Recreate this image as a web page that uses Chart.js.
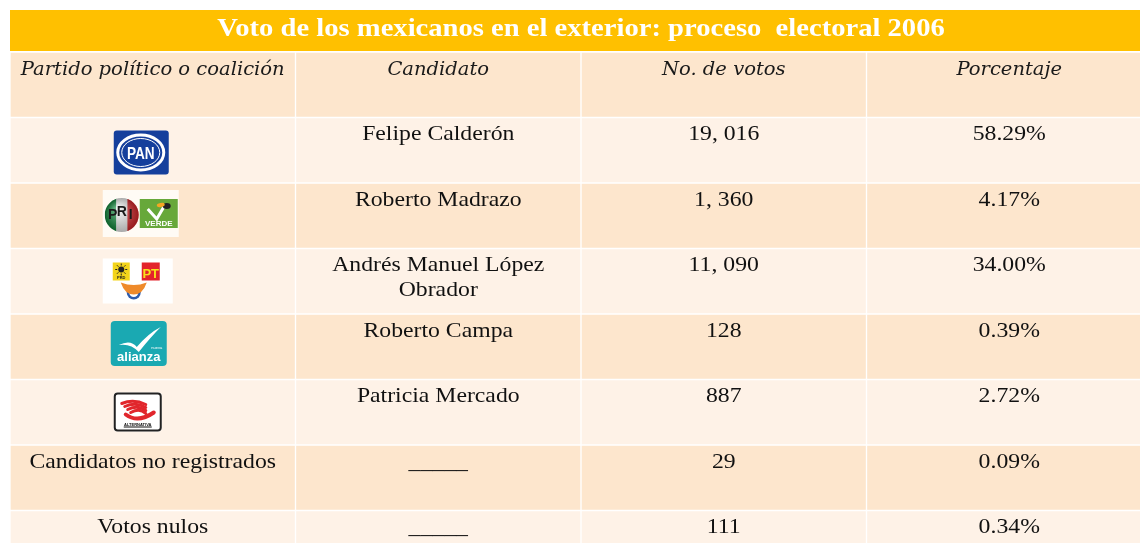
<!DOCTYPE html>
<html>
<head>
<meta charset="utf-8">
<title>Voto de los mexicanos en el exterior 2006</title>
<script src="https://cdn.jsdelivr.net/npm/chart.js@4.4.0/dist/chart.umd.min.js"></script>
<style>
  html, body { margin: 0; padding: 0; background: #fff; }
  #wrap { width: 1140px; height: 543px; overflow: hidden; }
  canvas { display: block; }
</style>
</head>
<body>
<div id="wrap"><canvas id="tabla" width="1152" height="576"></canvas></div>
<script>
const titulo = 'Voto de los mexicanos en el exterior: proceso  electoral 2006';
const encabezados = ['Partido político o coalición', 'Candidato', 'No. de votos', 'Porcentaje'];
const partidos = ['PAN', 'PRI-PVEM', 'PRD-PT-Convergencia', 'Nueva Alianza', 'Alternativa', 'Candidatos no registrados', 'Votos nulos'];
const candidatos = ['Felipe Calderón', 'Roberto Madrazo', 'Andrés Manuel López\nObrador', 'Roberto Campa', 'Patricia Mercado', '_____', '_____'];
const votos = [19016, 1360, 11090, 128, 887, 29, 111];
const porcentajes = [58.29, 4.17, 34.00, 0.39, 2.72, 0.09, 0.34];

const filas = ['encabezado', ...partidos];
const PEACH = '#fde6cd';
const LIGHT = '#fef2e7';

// votes are written as "19, 016" in the original
function fmtVotos(n) {
    if (n < 1000) return String(n);
    return Math.floor(n / 1000) + ', ' + String(n % 1000).padStart(3, '0');
}

function rr(ctx, x, y, w, h, r) {
    ctx.beginPath();
    ctx.moveTo(x + r, y);
    ctx.arcTo(x + w, y, x + w, y + h, r);
    ctx.arcTo(x + w, y + h, x, y + h, r);
    ctx.arcTo(x, y + h, x, y, r);
    ctx.arcTo(x, y, x + w, y, r);
    ctx.closePath();
}

function texto(ctx, txt, x, y, font, color, sx) {
    ctx.save();
    ctx.font = font;
    ctx.fillStyle = color;
    ctx.textAlign = 'center';
    ctx.textBaseline = 'alphabetic';
    txt.split('\n').forEach((line, k) => {
        ctx.save();
        ctx.translate(x, y + k * 25);
        ctx.scale(sx, 1);
        ctx.fillText(line, 0, 0);
        ctx.restore();
    });
    ctx.restore();
}

// simple party logos
const logos = {
    'PAN': (ctx, cx, t) => {
        const x = cx - 27, y = t + 13, w = 55, h = 44;
        ctx.fillStyle = '#153f9c';
        rr(ctx, x, y, w, h, 3); ctx.fill();
        ctx.strokeStyle = '#fff';
        ctx.lineWidth = 3;
        ctx.beginPath(); ctx.ellipse(cx, y + h / 2, 23, 17.5, 0, 0, Math.PI * 2); ctx.stroke();
        ctx.lineWidth = 1;
        ctx.beginPath(); ctx.ellipse(cx, y + h / 2, 19, 14, 0, 0, Math.PI * 2); ctx.stroke();
        ctx.save();
        ctx.translate(cx, y + h / 2 + 6);
        ctx.scale(0.8, 1);
        ctx.font = 'bold 17px "Liberation Sans"';
        ctx.fillStyle = '#fff';
        ctx.textAlign = 'center';
        ctx.fillText('PAN', 0, 0);
        ctx.restore();
    },
    'PRI-PVEM': (ctx, cx, t) => {
        ctx.fillStyle = '#fffbf5';
        ctx.fillRect(cx - 38, t + 7, 76, 47);
        // PRI
        const px = cx - 19, py = t + 32, r = 17;
        ctx.save();
        ctx.beginPath(); ctx.arc(px, py, r, 0, Math.PI * 2); ctx.clip();
        ctx.fillStyle = '#138a3e'; ctx.fillRect(px - r, py - r, r * 2 / 3 + 1, r * 2);
        ctx.fillStyle = '#f4f4f4'; ctx.fillRect(px - r / 3, py - r, r * 2 / 3, r * 2);
        ctx.fillStyle = '#d8262b'; ctx.fillRect(px + r / 3, py - r, r * 2 / 3 + 1, r * 2);
        const g = ctx.createRadialGradient(px - 5, py - 6, 2, px, py, r);
        g.addColorStop(0, 'rgba(255,255,255,0.35)');
        g.addColorStop(1, 'rgba(0,0,0,0.3)');
        ctx.fillStyle = g; ctx.fillRect(px - r, py - r, r * 2, r * 2);
        ctx.restore();
        ctx.font = 'bold 14px "Liberation Sans"';
        ctx.fillStyle = '#1a1a1a';
        ctx.textAlign = 'center';
        ctx.fillText('P', px - 9, py + 4);
        ctx.fillText('R', px, py + 1);
        ctx.fillText('I', px + 9, py + 4);
        // Verde
        const vx = cx - 1, vy = t + 16;
        ctx.fillStyle = '#67a83a';
        ctx.fillRect(vx, vy, 38, 29);
        ctx.strokeStyle = '#fff';
        ctx.lineWidth = 3;
        ctx.beginPath(); ctx.moveTo(vx + 8, vy + 10); ctx.lineTo(vx + 17, vy + 20); ctx.lineTo(vx + 24, vy + 8); ctx.stroke();
        ctx.fillStyle = '#222';
        ctx.beginPath(); ctx.ellipse(vx + 27, vy + 7, 4, 3, 0, 0, Math.PI * 2); ctx.fill();
        ctx.fillStyle = '#f5a623';
        ctx.beginPath(); ctx.ellipse(vx + 21, vy + 6, 4, 2, -0.2, 0, Math.PI * 2); ctx.fill();
        ctx.font = 'bold 8px "Liberation Sans"';
        ctx.fillStyle = '#fff';
        ctx.fillText('VERDE', vx + 19, vy + 27);
    },
    'PRD-PT-Convergencia': (ctx, cx, t) => {
        ctx.fillStyle = '#ffffff';
        ctx.fillRect(cx - 38, t + 10, 70, 45);
        // PRD
        const dx = cx - 28, dy = t + 14;
        ctx.fillStyle = '#f3d41a'; ctx.fillRect(dx, dy, 17, 18);
        ctx.fillStyle = '#222';
        ctx.beginPath(); ctx.arc(dx + 8.5, dy + 7, 3, 0, Math.PI * 2); ctx.fill();
        ctx.strokeStyle = '#222'; ctx.lineWidth = 1;
        for (let k = 0; k < 8; k++) {
            const a = k * Math.PI / 4;
            ctx.beginPath();
            ctx.moveTo(dx + 8.5 + Math.cos(a) * 4, dy + 7 + Math.sin(a) * 4);
            ctx.lineTo(dx + 8.5 + Math.cos(a) * 6, dy + 7 + Math.sin(a) * 6);
            ctx.stroke();
        }
        ctx.font = 'bold 4px "Liberation Sans"'; ctx.textAlign = 'center';
        ctx.fillText('PRD', dx + 8.5, dy + 16);
        // PT
        const tx = cx + 1;
        ctx.fillStyle = '#e3232b'; ctx.fillRect(tx, dy, 18, 18);
        ctx.fillStyle = '#f7e11b';
        ctx.font = 'bold 13px "Liberation Sans"';
        ctx.fillText('PT', tx + 9, dy + 15);
        // Convergencia
        const kx = cx - 7, ky = t + 42;
        ctx.fillStyle = '#2f5bab';
        ctx.beginPath(); ctx.arc(kx, ky + 2, 7, 0, Math.PI * 2); ctx.fill();
        ctx.fillStyle = '#fff';
        ctx.beginPath(); ctx.arc(kx, ky + 2, 4.5, 0, Math.PI * 2); ctx.fill();
        ctx.fillStyle = '#ef8a2a';
        ctx.beginPath();
        ctx.moveTo(kx - 13, ky - 8);
        ctx.quadraticCurveTo(kx, ky - 3, kx + 13, ky - 8);
        ctx.quadraticCurveTo(kx + 9, ky + 4, kx, ky + 4);
        ctx.quadraticCurveTo(kx - 9, ky + 4, kx - 13, ky - 8);
        ctx.fill();
    },
    'Nueva Alianza': (ctx, cx, t) => {
        const x = cx - 30, y = t + 7, w = 56, h = 45;
        ctx.fillStyle = '#1aa9b2';
        rr(ctx, x, y, w, h, 4); ctx.fill();
        ctx.fillStyle = '#fff';
        ctx.beginPath();
        ctx.moveTo(x + 8, y + 24);
        ctx.quadraticCurveTo(x + 20, y + 18, x + 26, y + 26);
        ctx.quadraticCurveTo(x + 38, y + 12, x + 50, y + 6);
        ctx.quadraticCurveTo(x + 40, y + 16, x + 28, y + 31);
        ctx.quadraticCurveTo(x + 20, y + 22, x + 8, y + 24);
        ctx.fill();
        ctx.font = 'bold 13px "Liberation Sans"';
        ctx.textAlign = 'center';
        ctx.fillText('alianza', x + w / 2, y + h - 5);
        ctx.font = '4px "Liberation Sans"';
        ctx.fillText('nueva', x + w - 10, y + h - 17);
    },
    'Alternativa': (ctx, cx, t) => {
        const x = cx - 27, y = t + 13, w = 48, h = 39;
        ctx.fillStyle = '#fff';
        rr(ctx, x, y, w, h, 3); ctx.fill();
        ctx.strokeStyle = '#222'; ctx.lineWidth = 2;
        rr(ctx, x + 1, y + 1, w - 2, h - 2, 3); ctx.stroke();
        ctx.strokeStyle = '#e1262c'; ctx.lineWidth = 3; ctx.lineCap = 'round';
        for (let k = 0; k < 4; k++) {
            ctx.beginPath();
            ctx.moveTo(x + 8 + k * 3, y + 11 + k * 3);
            ctx.quadraticCurveTo(x + 20 + k * 2, y + 6 + k * 3, x + 32, y + 12 + k * 3);
            ctx.stroke();
        }
        ctx.lineWidth = 4;
        ctx.beginPath();
        ctx.moveTo(x + 12, y + 22);
        ctx.quadraticCurveTo(x + 24, y + 31, x + 40, y + 20);
        ctx.stroke();
        ctx.lineCap = 'butt';
        ctx.fillStyle = '#111';
        ctx.font = 'bold 4px "Liberation Sans"';
        ctx.textAlign = 'center';
        ctx.fillText('ALTERNATIVA', x + w / 2, y + h - 6);
        ctx.fillRect(x + 10, y + h - 5, w - 20, 1);
    }
};

const tituloPlugin = {
    id: 'titulo',
    beforeDraw(chart) {
        const ctx = chart.ctx;
        const left = chart.chartArea.left, right = chart.width;
        ctx.save();
        ctx.fillStyle = '#ffc000';
        ctx.fillRect(left, 10, right - left, 41);
        ctx.restore();
        texto(ctx, titulo, (left + right) / 2, 36, 'bold 26px "Liberation Serif"', '#ffffff', 1.1);
    }
};

const celdasPlugin = {
    id: 'celdas',
    afterDatasetsDraw(chart) {
        const ctx = chart.ctx;
        chart.data.datasets.forEach((ds, c) => {
            chart.getDatasetMeta(c).data.forEach((bar, i) => {
                const p = bar.getProps(['x', 'y', 'base', 'height'], true);
                const cx = (p.x + p.base) / 2;
                const top = p.y - p.height / 2;
                if (i === 0) {
                    texto(ctx, encabezados[c], cx, top + 23, 'italic 18px "DejaVu Serif"', '#1a1a1a', 1.085);
                    return;
                }
                const r = i - 1;
                const body = '21px "Liberation Serif"';
                if (c === 0) {
                    const logo = logos[partidos[r]];
                    if (logo) {
                        ctx.save();
                        logo(ctx, cx - 12, top);
                        ctx.restore();
                    } else {
                        texto(ctx, partidos[r], cx, top + 22.5, body, '#111', 1.13);
                    }
                } else if (c === 1) {
                    texto(ctx, candidatos[r], cx, top + 22.5, body, '#111', 1.13);
                } else if (c === 2) {
                    texto(ctx, fmtVotos(votos[r]), cx, top + 22.5, body, '#111', 1.13);
                } else {
                    texto(ctx, porcentajes[r].toFixed(2) + '%', cx, top + 22.5, body, '#111', 1.13);
                }
            });
        });
    }
};

new Chart(document.getElementById('tabla'), {
    type: 'bar',
    data: {
        labels: filas,
        datasets: encabezados.map((h, c) => ({
            label: h,
            data: filas.map(() => [c, c + 1]),
            backgroundColor: filas.map((f, i) => i % 2 === 0 ? PEACH : LIGHT),
            borderColor: '#ffffff',
            borderWidth: 1,
            borderSkipped: false,
            grouped: false,
            barPercentage: 1,
            categoryPercentage: 1
        }))
    },
    options: {
        indexAxis: 'y',
        responsive: false,
        animation: false,
        events: [],
        layout: {
            padding: { top: 52, left: 10, right: 0, bottom: 0 }
        },
        scales: {
            x: { type: 'linear', min: 0, max: 4, display: false },
            y: { type: 'category', display: false }
        },
        plugins: {
            legend: { display: false },
            tooltip: { enabled: false }
        }
    },
    plugins: [tituloPlugin, celdasPlugin]
});
</script>
</body>
</html>
